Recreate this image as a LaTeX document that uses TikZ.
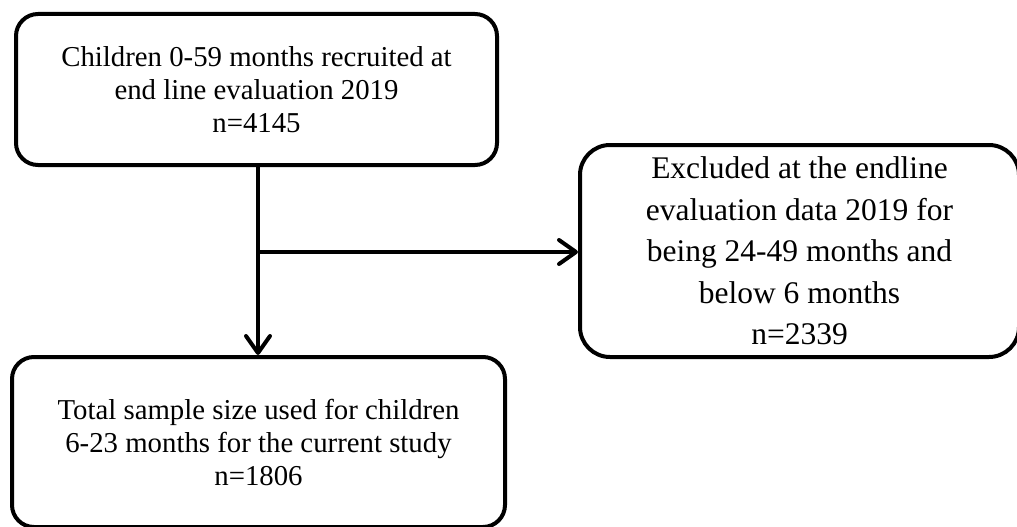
\documentclass[tikz,border=0pt]{standalone}
\usepackage{fontspec}
\setmainfont{Liberation Serif}
\usetikzlibrary{arrows.meta}
\tikzset{
  boxa/.style={draw, line width=4pt, rounded corners=22pt, inner sep=0pt, align=center,
    font=\fontsize{28.8}{33}\selectfont},
  boxb/.style={draw, line width=4pt, rounded corners=30pt, inner sep=0pt, align=center,
    font=\fontsize{31.5}{41.5}\selectfont},
  arr/.style={line width=4pt, -{Straight Barb[length=17pt,width=24pt,line cap=round,line join=round]}}
}
\begin{document}
\begin{tikzpicture}[x=1pt,y=-1pt]
\useasboundingbox (0,0) rectangle (1017,527);
\node[boxa, minimum width=481pt, minimum height=151pt] (b1) at (256.5,89.5)
  {Children 0-59 months recruited at\\end line evaluation 2019\\n=4145};
\node[boxb, minimum width=439pt, minimum height=212pt] (b2) at (799.5,251)
  {Excluded at the endline\\evaluation data 2019 for\\being 24-49 months and\\below 6 months\\n=2339};
\node[boxa, minimum width=493pt, minimum height=170pt] (b3) at (258.5,442)
  {Total sample size used for children\\6-23 months for the current study\\n=1806};
\coordinate (j) at (258,252);
\draw[arr] (j |- b1.south) -- (j |- b3.north);
\draw[arr] (j) -- (j -| b2.west);
\end{tikzpicture}
\end{document}
